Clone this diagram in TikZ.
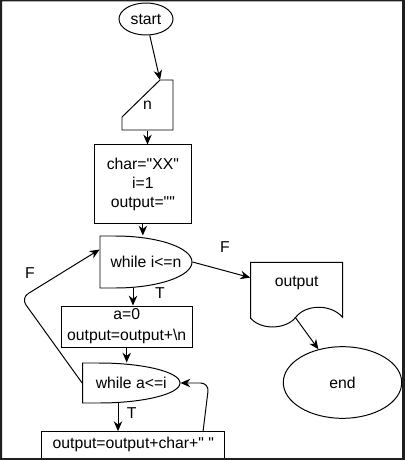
\documentclass[tikz,border=0pt]{standalone}
\usepackage{fontspec}
\setmainfont{Liberation Sans}[Ligatures=TeXOff]
\usepackage{tikz}
\usetikzlibrary{arrows.meta, shapes.geometric}

\begin{document}
\begin{tikzpicture}[x=0.025cm, y=-0.025cm, line width=0.7pt,
  every node/.style={font=\fontsize{11.2}{13.5}\selectfont, inner sep=2pt},
  box/.style={draw, align=center},
  term/.style={draw, ellipse},
  txt/.style={align=center},
  arr/.style={-{Stealth[length=7pt, width=6pt]}}]
  \useasboundingbox (0,0) rectangle (405,460);
  \node[term, minimum width=1.35cm, minimum height=0.8cm] (start) at (146,19) {start};
  \draw (122,130) -- (173,130) -- (173,80) -- (160,80) -- (122,117) -- cycle;
  \node[txt, minimum width=1.275cm, minimum height=1.25cm] (nin) at (147.5,105) {n};
  \coordinate (nintop) at (160,80);
  \node[box, minimum width=2.44cm, minimum height=1.95cm] (init) at (142.85,184) {char="XX"\\i=1\\output=""};
  \draw (100,236) -- (115,236) .. controls (157.5,236) and (192,247.6) .. (192,262) .. controls (192,276.4) and (157.5,288) .. (115,288) -- (100,288) -- cycle;
  \node[txt, minimum width=2.3cm, minimum height=1.3cm] (loopi) at (146,262) {while i<=n};
  \node[box, minimum width=3.28cm, minimum height=0.975cm] (body1) at (126.7,326.5) {a=0\\[1.5pt]output=output+\textbackslash n};
  \draw (82.7,363) -- (98.7,363) .. controls (143.6,363) and (180,372) .. (180,383) .. controls (180,394) and (143.6,403) .. (98.7,403) -- (82.7,403) -- cycle;
  \node[txt, minimum width=2.4325cm, minimum height=1cm] (loopa) at (131.3,383) {while a<=i};
  \node[box, minimum width=4.58cm, minimum height=0.66cm] (body2) at (133.3,444.85) {output=output+char+" "};
  \draw (250.7,262.3) -- (342.7,262.3) -- (342.7,317.3) .. controls (330,303) and (305,305) .. (296,317) .. controls (287,329) and (262,331) .. (250.7,318.3) -- cycle;
  \node[txt, minimum width=2.3cm, minimum height=1.05cm] (outdoc) at (296.7,283.3) {output};
  \node[term, minimum width=2.96cm, minimum height=1.79cm] (stop) at (342.5,382.5) {end};
  \coordinate (ti) at (133,288);
  \coordinate (ta) at (118,403);
  \coordinate (ret) at (203,431.7);
  \coordinate (wave) at (295,317);
  \draw[arr] (start) -- (nintop);
  \draw[arr] (nin) -- (nin |- init.north);
  \draw[arr] (init) -- (init |- loopi.north);
  \draw[arr] (ti) -- (ti |- body1.north);
  \draw[arr] (body1) -- (body1 |- loopa.north);
  \draw[arr] (ta) -- (ta |- body2.north);
  \draw[arr, rounded corners=6pt] (ret) -- (209,383) -- (loopa.east);
  \draw[arr, rounded corners=6pt] (loopa.west) -- (21,298) -- (loopi.165);
  \draw[arr] (loopi.east) -- (outdoc.173);
  \draw[arr] (wave) -- (stop);
  \node (ti-lbl) at (160,293) {T};
  \node (ta-lbl) at (131.7,413) {T};
  \node (fa-lbl) at (30,272.7) {F};
  \node (fi-lbl) at (225,246.7) {F};
  \fill[black!88, even odd rule] (0,0) rectangle (405,460) (2,1.5) rectangle (402,458);
\end{tikzpicture}
\end{document}
